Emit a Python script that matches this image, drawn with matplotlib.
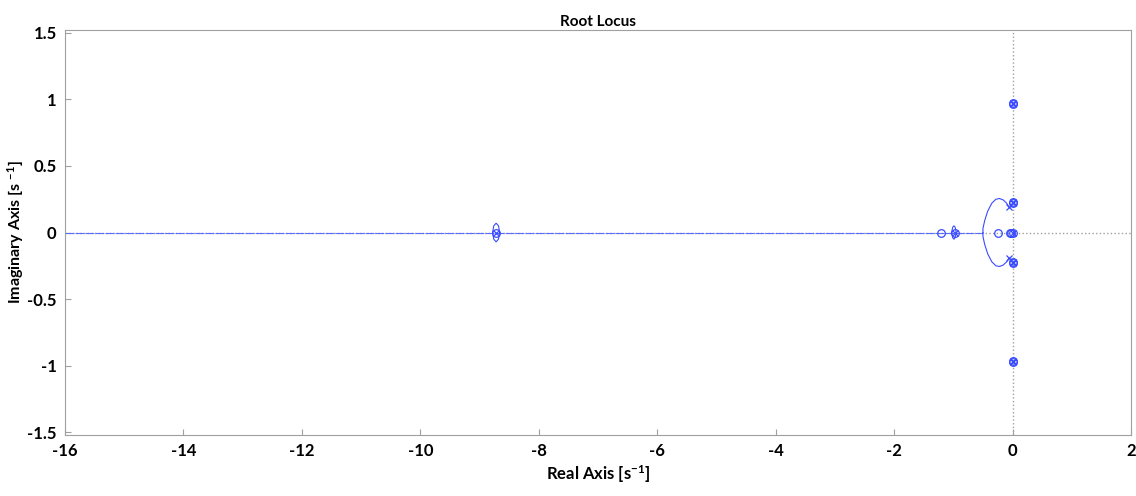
import matplotlib
matplotlib.use("Agg")
import numpy as np
import matplotlib.pyplot as plt

plt.rcParams["font.family"] = ["Lato", "DejaVu Sans"]
plt.rcParams["font.weight"] = "bold"
plt.rcParams["axes.unicode_minus"] = False
plt.rcParams["mathtext.fontset"] = "custom"
plt.rcParams["mathtext.rm"] = "Lato:bold"
plt.rcParams["mathtext.it"] = "Lato:bold"
plt.rcParams["mathtext.bf"] = "Lato:bold"

# --- Data ---------------------------------------------------------------
# open-loop poles (x) and zeros (o)
pole_re = [-8.72, -0.97, -0.06, -0.06, 0.0, 0.0, 0.0, 0.0, 0.0, 0.01, 0.01, 0.01, 0.01]
pole_im = [0.0, 0.0, 0.19, -0.19, 0.97, -0.97, 0.23, -0.23, 0.0, 0.965, -0.965, 0.225, -0.225]
zero_re = [-8.72, -1.20, -0.97, -0.25, -0.05, -0.02, 0.0, 0.0, 0.0, 0.0, 0.0,
           0.01, 0.01, 0.01, 0.01]
zero_im = [0.0, 0.0, 0.0, 0.0, 0.0, 0.0, 0.0, 0.97, -0.97, 0.23, -0.23,
           0.965, -0.965, 0.225, -0.225]

# complex branch leaving the poles near the origin, breaking in at ~-0.5
branch_re = [-0.06, -0.10, -0.16, -0.22, -0.28, -0.35, -0.42, -0.47, -0.50, -0.50]
branch_im = [0.19, 0.22, 0.245, 0.255, 0.25, 0.22, 0.16, 0.09, 0.03, 0.0]

# real-axis locus (runs off to -inf)
real_re = [-16.5, -0.50]

# small lenses around the pole/zero pairs
lens1_re = [-8.78, -8.76, -8.72, -8.68, -8.66]
lens1_im = [0.0, 0.05, 0.07, 0.05, 0.0]
lens2_re = [-1.03, -1.01, -0.99, -0.97, -0.95]
lens2_im = [0.0, 0.04, 0.05, 0.04, 0.0]

xticks = [-16, -14, -12, -10, -8, -6, -4, -2, 0, 2]
yticks = [-1.5, -1, -0.5, 0, 0.5, 1, 1.5]
ytick_labels = ["-1.5", "-1", "-0.5", "0", "0.5", "1", "1.5"]

# --- Plot ---------------------------------------------------------------
fig = plt.figure(figsize=(11.36, 4.96), dpi=100)
ax = fig.add_axes([0.0572, 0.123, 0.9384, 0.8165])

ax.axhline(0, color="#a0a0a0", linestyle=":", linewidth=1.0, zorder=1)
ax.axvline(0, color="#a0a0a0", linestyle=":", linewidth=1.0, zorder=1)

blue = "#3a4bff"
lw = 0.8
ax.plot(real_re, [0, 0], color="#5a6cff", lw=lw, linestyle=(0, (8, 1)), zorder=2)
ax.plot(branch_re, branch_im, color=blue, lw=lw)
ax.plot(branch_re, [-v for v in branch_im], color=blue, lw=lw)
for lr, li in [(lens1_re, lens1_im), (lens2_re, lens2_im)]:
    ax.plot(lr, li, color=blue, lw=lw)
    ax.plot(lr, [-v for v in li], color=blue, lw=lw)

ax.plot(pole_re, pole_im, linestyle="none", marker="x", color=blue, ms=5, mew=0.9)
ax.plot(zero_re, zero_im, linestyle="none", marker="o", mfc="none", mec=blue, ms=5.5, mew=0.9)

ax.set_xlim(-16, 2)
ax.set_ylim(-1.52, 1.52)
ax.set_xticks(xticks)
ax.set_xticklabels([str(t) for t in xticks])
ax.set_yticks(yticks)
ax.set_yticklabels(ytick_labels)
ax.tick_params(direction="in", length=4, color="#a0a0a0", labelsize=12, pad=6)
for s in ax.spines.values():
    s.set_color("#a0a0a0")
    s.set_linewidth(0.8)

ax.set_title("Root Locus", fontsize=11, fontweight="bold", pad=3)
ax.set_xlabel(r"Real Axis [s$^{-1}$]", fontsize=12, fontweight="bold", labelpad=3)
ax.set_ylabel(r"Imaginary Axis [s $^{-1}$]", fontsize=11.5, fontweight="bold", labelpad=1)

fig.savefig("out.png", dpi=100)
